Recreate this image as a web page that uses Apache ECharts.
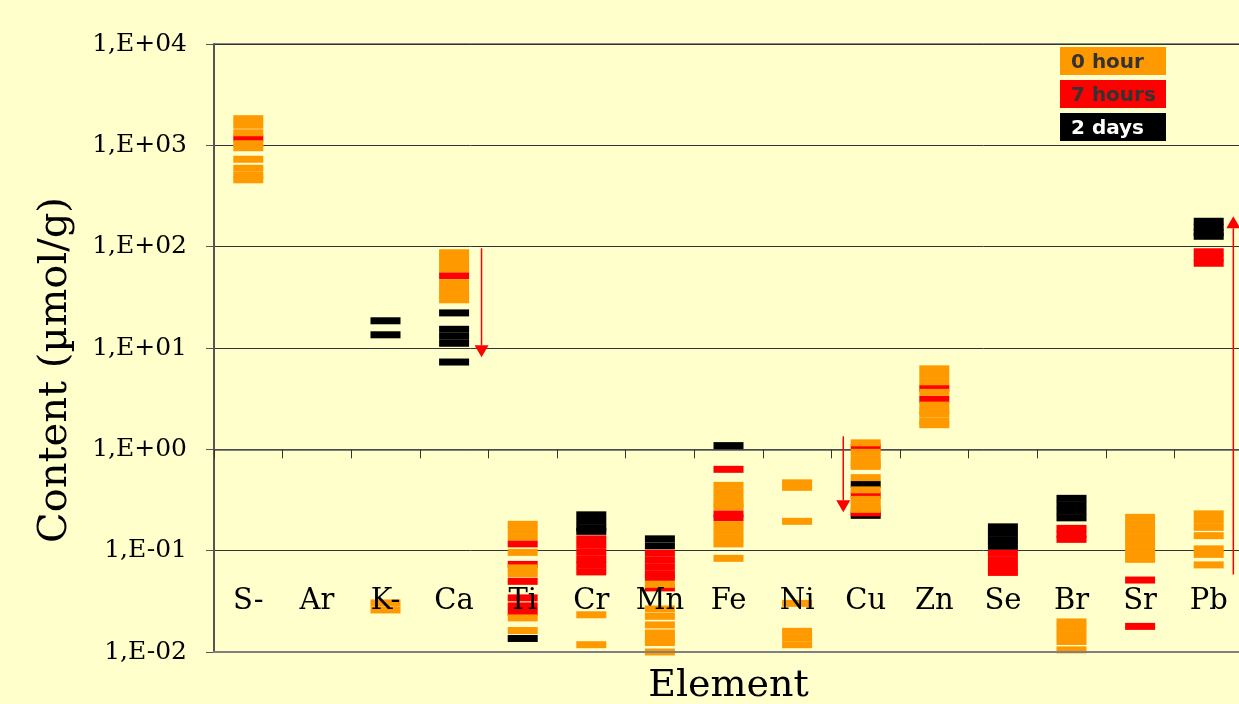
<!DOCTYPE html>
<html>
<head>
<meta charset="utf-8">
<script src="https://cdn.jsdelivr.net/npm/echarts@6/dist/echarts.min.js"></script>
<style>
html, body { margin: 0; padding: 0; background: #FFFFCC; }
#chart { width: 1239px; height: 704px; }
</style>
</head>
<body>
<div id="chart"></div>
<script>
// Elements on the horizontal axis
const elements = ['S-', 'Ar', 'K-', 'Ca', 'Ti', 'Cr', 'Mn', 'Fe', 'Ni', 'Cu', 'Zn', 'Se', 'Br', 'Sr', 'Pb'];
const seriesNames = ['0 hour', '7 hours', '2 days'];

// Content in µmol/g, one dash per measurement
const hour0 = [
  ['S-', 1832], ['S-', 1579], ['S-', 1331], ['S-', 1037], ['S-', 947], ['S-', 729], ['S-', 594], ['S-', 507], ['S-', 457],
  ['K-', 0.0305], ['K-', 0.0260],
  ['Ca', 87.1], ['Ca', 76.8], ['Ca', 66.8], ['Ca', 60.5], ['Ca', 44.0], ['Ca', 38.8], ['Ca', 33.9], ['Ca', 29.9],
  ['Ti', 0.182], ['Ti', 0.1586], ['Ti', 0.1368], ['Ti', 0.0962], ['Ti', 0.0676], ['Ti', 0.059], ['Ti', 0.0217], ['Ti', 0.0163],
  ['Cr', 0.0233], ['Cr', 0.0118],
  ['Mn', 0.0465], ['Mn', 0.0266], ['Mn', 0.0225], ['Mn', 0.0185], ['Mn', 0.0154], ['Mn', 0.0133], ['Mn', 0.0124], ['Mn', 0.0100],
  ['Fe', 0.441], ['Fe', 0.3805], ['Fe', 0.3284], ['Fe', 0.2865], ['Fe', 0.2706], ['Fe', 0.1798], ['Fe', 0.1551], ['Fe', 0.1338], ['Fe', 0.1167], ['Fe', 0.084],
  ['Ni', 0.467], ['Ni', 0.4216], ['Ni', 0.1947], ['Ni', 0.0302], ['Ni', 0.016], ['Ni', 0.0138], ['Ni', 0.0118],
  ['Cu', 1.159], ['Cu', 0.934], ['Cu', 0.806], ['Cu', 0.711], ['Cu', 0.679], ['Cu', 0.5256], ['Cu', 0.398], ['Cu', 0.3209], ['Cu', 0.2768], ['Cu', 0.2557],
  ['Zn', 6.23], ['Zn', 5.38], ['Zn', 4.64], ['Zn', 3.65], ['Zn', 2.73], ['Zn', 2.37], ['Zn', 2.22], ['Zn', 1.89], ['Zn', 1.75],
  ['Br', 0.0198], ['Br', 0.0171], ['Br', 0.01475], ['Br', 0.0127], ['Br', 0.0105],
  ['Sr', 0.2132], ['Sr', 0.1839], ['Sr', 0.1586], ['Sr', 0.1368], ['Sr', 0.118], ['Sr', 0.1018], ['Sr', 0.0888], ['Sr', 0.0821],
  ['Pb', 0.2308], ['Pb', 0.1991], ['Pb', 0.1698], ['Pb', 0.1406], ['Pb', 0.1042], ['Pb', 0.0919], ['Pb', 0.0724]
];

const hours7 = [
  ['S-', 1175],
  ['Ca', 51.6],
  ['Ti', 0.1167], ['Ti', 0.0732], ['Ti', 0.0498], ['Ti', 0.0342], ['Ti', 0.0285], ['Ti', 0.0246],
  ['Cr', 0.1308], ['Cr', 0.1128], ['Cr', 0.0962], ['Cr', 0.0821], ['Cr', 0.0716], ['Cr', 0.0617],
  ['Mn', 0.0941], ['Mn', 0.0802], ['Mn', 0.0684], ['Mn', 0.0583], ['Mn', 0.0545], ['Mn', 0.0429],
  ['Fe', 0.635], ['Fe', 0.2308], ['Fe', 0.2108],
  ['Cu', 1.046], ['Cu', 0.3515], ['Cu', 0.2361],
  ['Zn', 4.00], ['Zn', 3.12],
  ['Se', 0.0941], ['Se', 0.0811], ['Se', 0.0700], ['Se', 0.0610],
  ['Br', 0.166], ['Br', 0.1449], ['Br', 0.1293],
  ['Sr', 0.0513], ['Sr', 0.0179],
  ['Pb', 89.1], ['Pb', 77.7], ['Pb', 68.6]
];

const days2 = [
  ['K-', 18.56], ['K-', 13.5],
  ['Ca', 22.2], ['Ca', 15.3], ['Ca', 13.05], ['Ca', 11.13], ['Ca', 7.27],
  ['Ti', 0.0136],
  ['Cr', 0.2257], ['Cr', 0.1947], ['Cr', 0.1679], ['Cr', 0.1551],
  ['Mn', 0.1308], ['Mn', 0.1115],
  ['Fe', 1.088],
  ['Cu', 0.4513], ['Cu', 0.2231],
  ['Se', 0.1718], ['Se', 0.1482], ['Se', 0.1279], ['Se', 0.1103],
  ['Br', 0.3284], ['Br', 0.2832], ['Br', 0.2443], ['Br', 0.2108],
  ['Pb', 178.1], ['Pb', 155.4], ['Pb', 137.2], ['Pb', 126.6]
];

// Trend arrows: element, start value, end value
const arrowElements = ['Ca', 'Cu', 'Pb'];
const arrowFrom = [96.4, 1.344, 0.0583];
const arrowTo = [8.1, 0.239, 199.6];

// Axis range
const yMin = 0.01, yMax = 10000;

// ---- presentation ----
const colors = { '0 hour': '#FF9900', '7 hours': '#FF0000', '2 days': '#000000' };
const arrowShift = [0.40, -0.327, 0.359]; // fraction of a category band
const serif = '"DejaVu Serif", "Liberation Serif", serif';
const gridLeft = 214, gridTop = 44, gridW = 1029, gridH = 608;
const oneOffset = -gridH * (Math.log10(1) - Math.log10(yMin)) / (Math.log10(yMax) - Math.log10(yMin));

function dashSeries(name, data) {
  return {
    name: name,
    type: 'scatter',
    data: data,
    symbol: 'rect',
    symbolSize: [30, 7],
    itemStyle: { color: colors[name], opacity: 1 },
    emphasis: { disabled: true },
    z: 2
  };
}

const arrowData = arrowElements.map((e, i) => [elements.indexOf(e), arrowFrom[i], arrowTo[i]]);

const chart = echarts.init(document.getElementById('chart'), null, { renderer: 'canvas' });

const legendItems = [];
seriesNames.forEach((n, i) => {
  const top = 47 + i * 33;
  legendItems.push({
    type: 'rect', x: 1060, y: top, z: 100,
    shape: { width: 106, height: 28 },
    style: { fill: colors[n] }
  });
  legendItems.push({
    type: 'text', x: 1071, y: top + 16, z: 101,
    style: {
      text: n, font: 'bold 20px "DejaVu Sans", Verdana, sans-serif',
      fill: n === '2 days' ? '#FFFFFF' : '#333333', verticalAlign: 'middle'
    }
  });
});

chart.setOption({
  animation: false,
  backgroundColor: '#FFFFCC',
  grid: {
    left: gridLeft, top: gridTop, width: gridW, height: gridH,
    containLabel: false, outerBoundsMode: 'none',
    show: true, borderColor: '#888888', borderWidth: 2, backgroundColor: 'transparent'
  },
  xAxis: [
    {
      type: 'category', data: elements, position: 'bottom', boundaryGap: true, z: 10,
      axisLine: { show: true, onZero: false, lineStyle: { color: '#808080', width: 2 } },
      axisTick: { show: false },
      splitLine: { show: false },
      axisLabel: { inside: true, margin: 36, fontFamily: serif, fontSize: 29, color: '#000' },
      name: 'Element', nameLocation: 'middle', nameGap: 15,
      nameTextStyle: { fontFamily: serif, fontSize: 38, color: '#000', verticalAlign: 'top' }
    },
    {
      type: 'category', data: elements, position: 'bottom', offset: oneOffset, boundaryGap: true, z: 1,
      axisLine: { show: true, onZero: false, lineStyle: { color: '#555555', width: 1.5 } },
      axisTick: { show: true, length: 9, lineStyle: { color: '#333333', width: 1 } },
      axisLabel: { show: false },
      splitLine: { show: false }
    }
  ],
  yAxis: {
    type: 'log', logBase: 10, min: yMin, max: yMax,
    axisLine: { show: true, lineStyle: { color: '#555555', width: 2 } },
    axisTick: { show: true, length: 8, lineStyle: { color: '#555555' } },
    splitLine: { show: true, lineStyle: { color: '#333333', width: 1 } },
    minorTick: { show: false },
    axisLabel: {
      margin: 27, fontFamily: serif, fontSize: 25, color: '#000',
      formatter: v => {
        const e = Math.round(Math.log10(v));
        return '1,E' + (e < 0 ? '-' : '+') + String(Math.abs(e)).padStart(2, '0');
      }
    },
    name: 'Content (µmol/g)', nameLocation: 'middle', nameGap: 138,
    nameTextStyle: { fontFamily: serif, fontSize: 40, color: '#000', padding: [0, 44, 0, 0] }
  },
  series: [
    dashSeries('2 days', days2),
    dashSeries('7 hours', hours7),
    dashSeries('0 hour', hour0),
    {
      type: 'custom',
      data: arrowData,
      clip: false,
      z: 5,
      encode: { x: 0, y: [1, 2] },
      renderItem: (params, api) => {
        const i = params.dataIndex;
        const start = api.coord([api.value(0), api.value(1)]);
        const end = api.coord([api.value(0), api.value(2)]);
        const band = api.coord([1, api.value(1)])[0] - api.coord([0, api.value(1)])[0];
        const x = start[0] + band * arrowShift[i];
        const dir = end[1] > start[1] ? 1 : -1;
        const head = 12, half = 7;
        return {
          type: 'group',
          children: [
            { type: 'line', shape: { x1: x, y1: start[1], x2: x, y2: end[1] - dir * head },
              style: { stroke: '#FF0000', lineWidth: 1.5 } },
            { type: 'polygon', shape: { points: [[x - half, end[1] - dir * head], [x + half, end[1] - dir * head], [x, end[1]]] },
              style: { fill: '#FF0000' } }
          ]
        };
      }
    }
  ],
  graphic: legendItems
});
</script>
</body>
</html>
